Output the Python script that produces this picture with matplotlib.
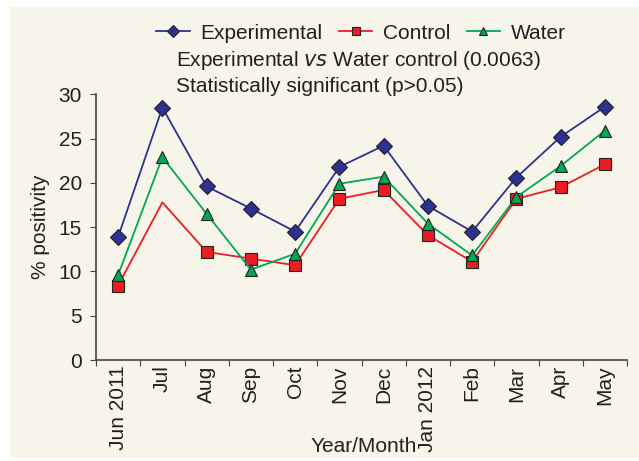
import matplotlib
matplotlib.use("Agg")
import matplotlib.pyplot as plt
from matplotlib.patches import Rectangle

plt.rcParams['font.family'] = ['Liberation Sans', 'DejaVu Sans']

months = ['Jun 2011', 'Jul', 'Aug', 'Sep', 'Oct', 'Nov', 'Dec',
          'Jan 2012', 'Feb', 'Mar', 'Apr', 'May']
experimental = [13.9, 28.5, 19.6, 17.1, 14.5, 21.8, 24.2, 17.4, 14.5, 20.6, 25.2, 28.6]
control = [8.4, 17.8, 12.2, 11.45, 10.7, 18.2, 19.2, 14.1, 11.1, 18.2, 19.5, 22.1]
water = [9.6, 22.9, 16.5, 10.2, 12.0, 19.9, 20.7, 15.4, 11.8, 18.4, 21.9, 25.9]
yticks = [0, 5, 10, 15, 20, 25, 30]

bg = '#f7f5ea'
c_exp = '#2e3192'
c_ctl = '#ed1c24'
c_wat = '#00a651'
txt = '#231f20'
fs = 15

fig = plt.figure(figsize=(6.39, 4.61), dpi=100)
fig.patch.set_facecolor('white')
fig.patches.append(Rectangle((10/639, 1-458/461), 629/639, 451/461,
                             transform=fig.transFigure, facecolor=bg,
                             edgecolor='none', zorder=-10))

ax = fig.add_axes([96/639, 1-360/461, 531/639, 265.7/461])
ax.set_facecolor(bg)

x = list(range(len(months)))
ln_e, = ax.plot(x, experimental, color=c_exp, lw=1.3, marker='D', ms=8.5,
                mfc=c_exp, mec='#222222', mew=0.8, label='Experimental', clip_on=False)
ln_c, = ax.plot(x, control, color=c_ctl, lw=1.3, marker='s', ms=8.5,
                mfc=c_ctl, mec='#222222', mew=0.8, label='Control',
                markevery=[i for i in x if i != 1], clip_on=False)
ln_w, = ax.plot(x, water, color=c_wat, lw=1.3, marker='^', ms=8.5,
                mfc=c_wat, mec='#222222', mew=0.8, label='Water', clip_on=False)
ax.set_zorder(2)
ln_e.set_zorder(3)

ax.set_xlim(-0.5, len(months) - 0.5)
ax.set_ylim(0, 30)
ax.set_yticks(yticks)
ax.set_xticks([i - 0.5 for i in range(len(months) + 1)], minor=False)
ax.set_xticklabels([])
ax.set_xticks(x, minor=True)
ax.set_xticklabels(months, minor=True, rotation=90, fontsize=fs, color=txt)
ax.tick_params(axis='x', which='minor', length=0, pad=4)
ax.tick_params(axis='x', which='major', length=4, direction='out', color='#444444')
ax.tick_params(axis='y', length=4, direction='out', labelsize=fs, color='#444444',
               labelcolor=txt, pad=6)

for s in ['top', 'right']:
    ax.spines[s].set_visible(False)
for s in ['left', 'bottom']:
    ax.spines[s].set_color('#444444')
    ax.spines[s].set_linewidth(1.2)

ax.set_ylabel('% positivity', fontsize=fs, color=txt, labelpad=6)
fig.text(364/639, 1-446/461, 'Year/Month', fontsize=fs, color=txt,
         ha='center', va='center')

leg = fig.legend(handles=[ln_e, ln_c, ln_w], loc='center', ncol=3,
                 bbox_to_anchor=(361/639, 1-33/461), frameon=False, fontsize=fs,
                 handlelength=1.6, columnspacing=0.8, handletextpad=0.5,
                 markerscale=0.75)
for t in leg.get_texts():
    t.set_color(txt)

fig.text(176/639, 1-60/461, 'Experimental $\\it{vs}$ Water control (0.0063)',
         fontsize=fs, color=txt, va='center', ha='left')
fig.text(176/639, 1-87/461, 'Statistically significant (p>0.05)',
         fontsize=fs, color=txt, va='center', ha='left')

fig.savefig('out.png', dpi=100, facecolor=fig.get_facecolor())
